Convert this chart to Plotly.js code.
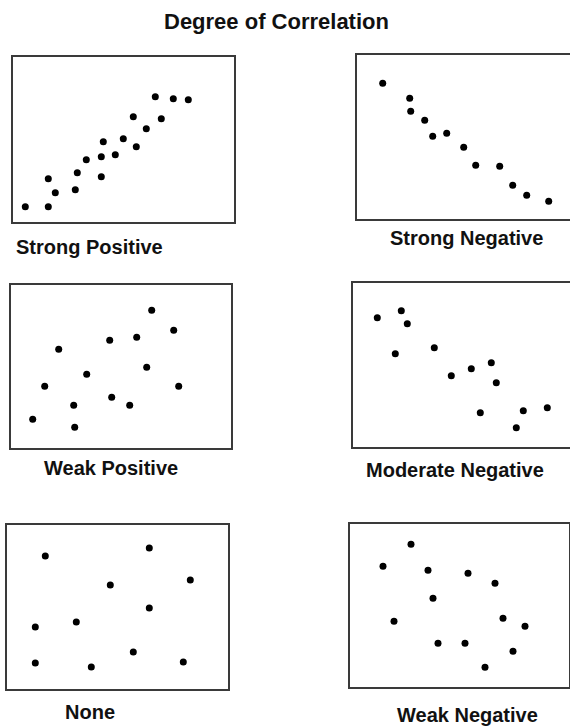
<!DOCTYPE html>
<html>
<head>
<meta charset="utf-8">
<script src="https://cdn.plot.ly/plotly-3.0.1.min.js"></script>
<style>html,body{margin:0;padding:0;background:#fff;}#chart{width:570px;height:727px;}</style>
</head>
<body>
<div id="chart"></div>
<script>
// Panel names
const panelNames = ["Strong Positive", "Strong Negative", "Weak Positive", "Moderate Negative", "None", "Weak Negative"];
const chartTitle = "Degree of Correlation";

// Values (arbitrary units within each box)
const strongPosX = [12, 35, 35, 42, 62, 64, 73, 88, 88, 90, 102, 110, 120, 123, 133, 142, 148, 160, 175];
const strongPosY = [15, 15, 43, 29, 32, 49, 62, 45, 65, 80, 67, 83, 105, 75, 93, 125, 103, 123, 122];

const strongNegX = [26, 53, 54, 68, 76, 90, 107, 119, 143, 156, 170, 192];
const strongNegY = [136, 121, 108, 99, 83, 86, 72, 54, 53, 34, 24, 18];

const weakPosX = [141, 163, 99, 126, 48, 76, 136, 34, 168, 101, 63, 119, 22, 64];
const weakPosY = [138, 118, 108, 111, 99, 74, 81, 62, 62, 51, 43, 43, 29, 21];

const modNegX = [24, 48, 54, 42, 81, 98, 118, 138, 143, 127, 170, 194, 163];
const modNegY = [129, 136, 123, 93, 99, 71, 78, 84, 64, 34, 36, 39, 19];

const noneX = [38, 142, 103, 183, 142, 28, 69, 28, 84, 126, 176];
const noneY = [133, 141, 104, 109, 81, 62, 67, 26, 22, 37, 27];

const weakNegX = [61, 33, 78, 118, 145, 83, 44, 153, 175, 88, 115, 163, 135];
const weakNegY = [143, 121, 117, 114, 104, 89, 66, 69, 61, 44, 44, 36, 20];

const seriesX = [strongPosX, strongNegX, weakPosX, modNegX, noneX, weakNegX];
const seriesY = [strongPosY, strongNegY, weakPosY, modNegY, noneY, weakNegY];

// Layout geometry (pixel boxes)
const W = 570, H = 727;
const boxes = [
  {l: 13.3, r: 234.3, t: 56.7, b: 221.7},
  {l: 356.7, r: 570, t: 55, b: 219.3},
  {l: 10.7, r: 231, t: 285, b: 448.3},
  {l: 353.3, r: 570, t: 283.3, b: 446.7},
  {l: 7.3, r: 228.3, t: 525, b: 689},
  {l: 350, r: 569, t: 524, b: 687.3}
];
const labelPos = [
  {x: 89, y: 247},
  {x: 466, y: 238},
  {x: 111, y: 468},
  {x: 455, y: 470},
  {x: 90, y: 712},
  {x: 467, y: 715}
];

const FONT = "Liberation Sans, Arial, sans-serif";
const traces = [];
const layout = {
  width: W, height: H,
  margin: {l: 0, r: 0, t: 0, b: 0},
  paper_bgcolor: "#fff",
  plot_bgcolor: "#fff",
  showlegend: false,
  annotations: [],
  font: {family: FONT, color: "#111"}
};

boxes.forEach((bx, i) => {
  const n = i + 1;
  const xa = n === 1 ? "x" : "x" + n;
  const ya = n === 1 ? "y" : "y" + n;
  traces.push({
    type: "scatter", mode: "markers",
    x: seriesX[i], y: seriesY[i],
    xaxis: xa, yaxis: ya,
    marker: {color: "#000", size: 7},
    hoverinfo: "skip"
  });
  const isRight = bx.r >= 569.5;
  const common = {showticklabels: false, showgrid: false, zeroline: false, ticks: "",
    showline: true, linecolor: "#3a3a3a", linewidth: 2, fixedrange: true};
  layout[n === 1 ? "xaxis" : "xaxis" + n] = Object.assign({}, common, {
    domain: [bx.l / W, Math.min(bx.r / W, 1)],
    range: [0, bx.r - bx.l], mirror: true, anchor: ya
  });
  layout[n === 1 ? "yaxis" : "yaxis" + n] = Object.assign({}, common, {
    domain: [1 - bx.b / H, 1 - bx.t / H],
    range: [0, bx.b - bx.t], mirror: !isRight, anchor: xa
  });
  layout.annotations.push({
    text: "<b>" + panelNames[i] + "</b>",
    xref: "paper", yref: "paper",
    x: labelPos[i].x / W, y: 1 - labelPos[i].y / H,
    xanchor: "center", yanchor: "middle", showarrow: false,
    font: {size: 20, family: FONT, color: "#111"}
  });
});

layout.annotations.push({
  text: "<b>" + chartTitle + "</b>",
  xref: "paper", yref: "paper",
  x: 276 / W, y: 1 - 21 / H,
  xanchor: "center", yanchor: "middle", showarrow: false,
  font: {size: 22, family: FONT, color: "#111"}
});

Plotly.newPlot("chart", traces, layout, {staticPlot: true, displayModeBar: false});
</script>
</body>
</html>
